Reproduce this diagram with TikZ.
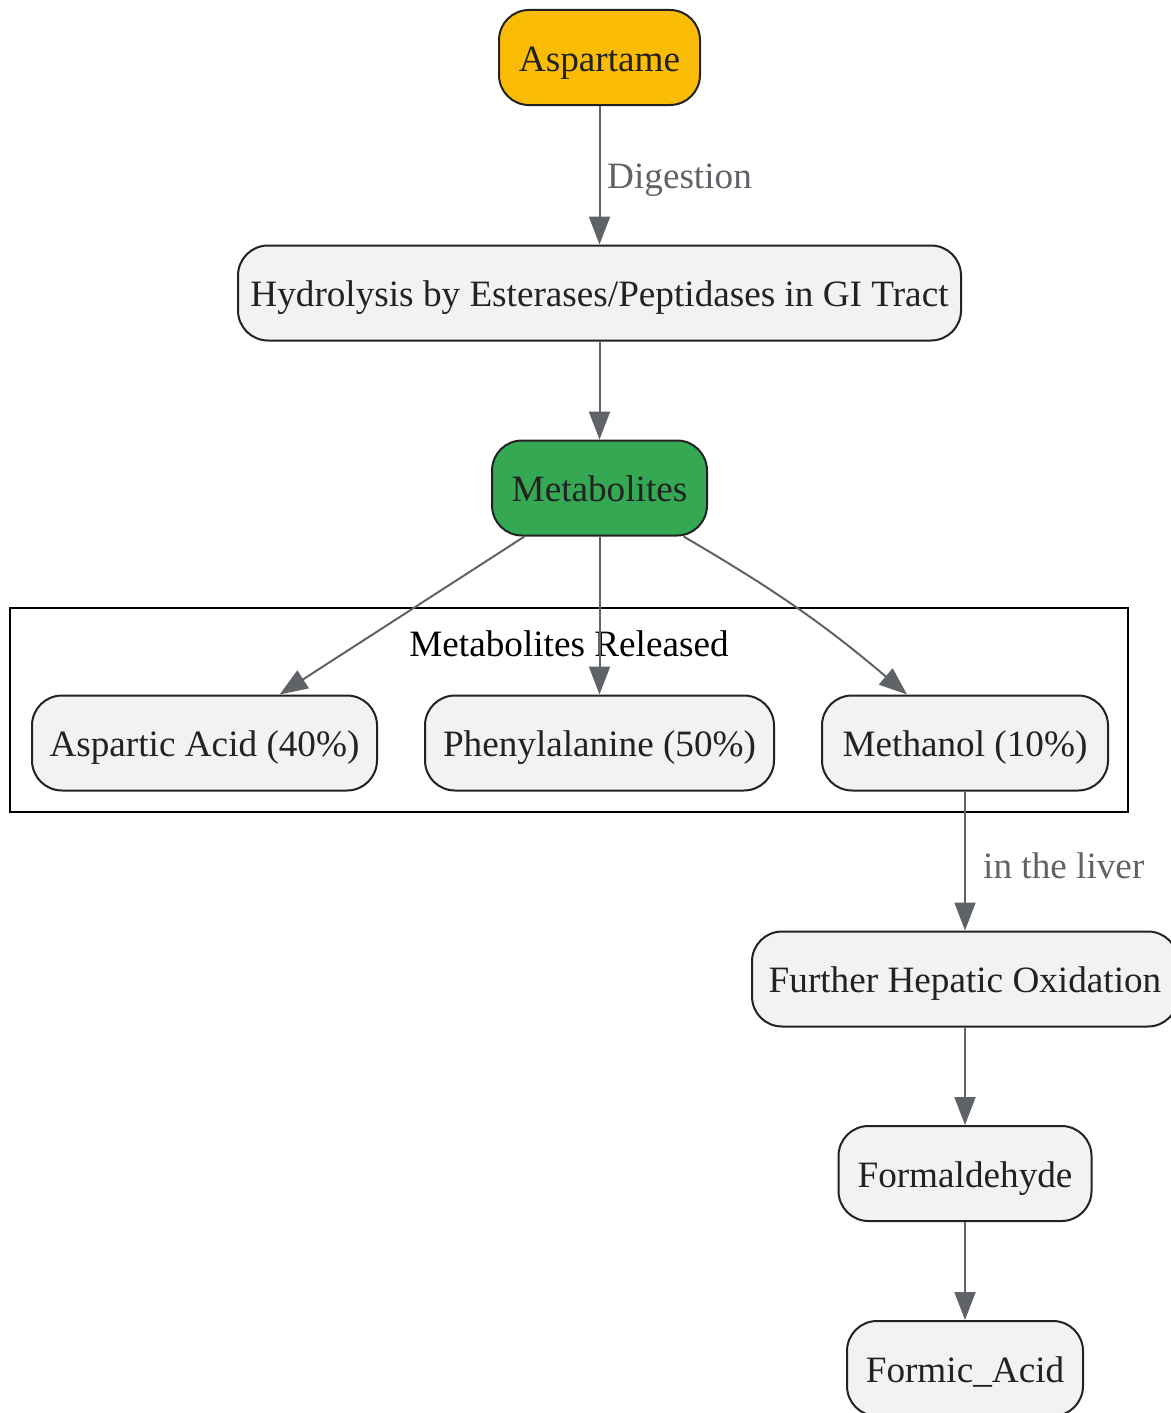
\documentclass[tikz,border=0pt]{standalone}
\usepackage{fontspec}
\setmainfont{Liberation Serif}
\usetikzlibrary{arrows.meta}
\definecolor{nodegray}{HTML}{F1F2F4}
\definecolor{border}{HTML}{222222}
\definecolor{edgegray}{HTML}{5F6368}
\definecolor{labgray}{HTML}{5F6368}
\definecolor{yel}{HTML}{FBBC05}
\definecolor{grn}{HTML}{34A853}
\begin{document}
\begin{tikzpicture}[x=1pt,y=-1pt,
  box/.style={draw=border, line width=2pt, rounded corners=30pt, fill=nodegray,
    text=border, inner sep=0pt, minimum height=95pt, text height=32pt, text depth=5pt,
    font=\fontsize{37.2}{41}\selectfont},
  conn/.style={draw=edgegray, line width=2pt, -{Triangle[length=28pt,width=21pt]}},
  elabel/.style={text=labgray, font=\fontsize{37.2}{41}\selectfont, inner sep=0pt, anchor=west}
]
\useasboundingbox (0,0) rectangle (1170,1413);
% cluster
\node[draw=black, line width=2pt, minimum width=1118pt, minimum height=204pt, inner sep=0pt] (cluster) at (569,710) {};
\node[font=\fontsize{37.2}{41}\selectfont, text=black, inner sep=0pt, text height=32pt, text depth=5pt] (clabel) at (569,643) {Metabolites Released};
% nodes
\node[box, fill=yel, minimum width=201pt] (asp) at (599.5,57.5) {Aspartame};
\node[box, minimum width=723pt] (hyd) at (599.5,293) {Hydrolysis by Esterases/Peptidases in GI Tract};
\node[box, fill=grn, minimum width=215pt] (met) at (599.5,488) {Metabolites};
\node[box, minimum width=345pt] (aspa) at (204.5,743) {Aspartic Acid (40\%)};
\node[box, minimum width=349pt] (phe) at (599.5,743) {Phenylalanine (50\%)};
\node[box, minimum width=286pt] (meth) at (965,743) {Methanol (10\%)};
\node[box, minimum width=426pt] (fho) at (965,979) {Further Hepatic Oxidation};
\node[box, minimum width=253pt] (form) at (965,1173.5) {Formaldehyde};
\node[box, minimum width=236pt] (fa) at (965,1368.5) {Formic\_Acid};
% edges
\draw[conn] (asp) -- (hyd);
\node[elabel] (l1) at (607,180) {Digestion};
\draw[conn] (hyd) -- (met);
\draw[conn] (met) -- (aspa);
\draw[conn] (met) -- (phe);
\draw[conn] (met) to[bend left=5] (meth);
\draw[conn] (meth) -- (fho);
\node[elabel] (l2) at (983,866) {in the liver};
\draw[conn] (fho) -- (form);
\draw[conn] (form) -- (fa);
\end{tikzpicture}
\end{document}
